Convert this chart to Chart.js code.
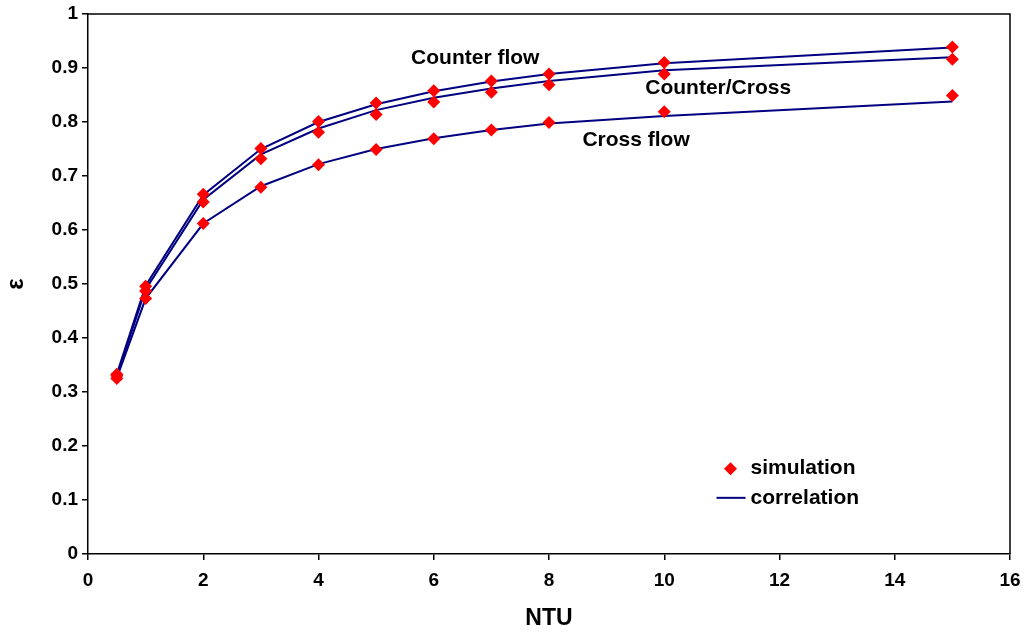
<!DOCTYPE html>
<html>
<head>
<meta charset="utf-8">
<script src="https://cdn.jsdelivr.net/npm/chart.js@4.4.1/dist/chart.umd.min.js"></script>
<style>
  html, body { margin: 0; padding: 0; background: #fff; }
  #wrap { width: 1026px; height: 634px; }
</style>
</head>
<body>
<div id="wrap"><canvas id="c" width="1026" height="634"></canvas></div>
<script>
// NTU values at which the effectiveness was evaluated
const ntu = [0.5, 1, 2, 3, 4, 5, 6, 7, 8, 10, 15];

// Simulated effectiveness
const simCounter      = [0.333, 0.496, 0.666, 0.751, 0.801, 0.835, 0.858, 0.876, 0.889, 0.910, 0.939];
const simCounterCross = [0.330, 0.487, 0.652, 0.732, 0.781, 0.814, 0.837, 0.855, 0.869, 0.889, 0.916];
const simCross        = [0.325, 0.473, 0.612, 0.679, 0.721, 0.749, 0.769, 0.785, 0.799, 0.819, 0.849];

// Correlation curves
const corCounter      = [0.333, 0.497, 0.665, 0.750, 0.800, 0.833, 0.857, 0.875, 0.889, 0.909, 0.938];
const corCounterCross = [0.330, 0.490, 0.656, 0.740, 0.788, 0.822, 0.845, 0.862, 0.876, 0.896, 0.920];
const corCross        = [0.326, 0.473, 0.612, 0.681, 0.722, 0.750, 0.770, 0.785, 0.797, 0.811, 0.838];

// Axis ticks
const xTicks = [0, 2, 4, 6, 8, 10, 12, 14, 16];
const yTicks = [0, 0.1, 0.2, 0.3, 0.4, 0.5, 0.6, 0.7, 0.8, 0.9, 1];

// Curve labels: text, anchor NTU, anchor ε, alignment
const curveLabels = [
  { text: 'Counter flow',  x: 6.72, y: 0.918, align: 'center' },
  { text: 'Counter/Cross', x: 9.67, y: 0.863, align: 'left' },
  { text: 'Cross flow',    x: 8.58, y: 0.767, align: 'left' }
];
const legendLabels = ['simulation', 'correlation'];

const RED = '#ff0000';
const NAVY = '#000080';
const FONT = "'Liberation Sans', Arial, sans-serif";

const pts = (ys) => ntu.map((x, i) => ({ x: x, y: ys[i] }));

function lineSet(ys) {
  return { data: pts(ys), showLine: true, borderColor: NAVY, borderWidth: 2,
           pointRadius: 0, tension: 0, fill: false, order: 2 };
}
function markerSet(ys) {
  return { data: pts(ys), showLine: false, pointStyle: 'rectRot', pointRadius: 6.5,
           backgroundColor: RED, borderColor: RED, borderWidth: 0, order: 1 };
}

// Frame, curve labels and legend
const decorations = {
  id: 'decorations',
  afterDatasetsDraw(chart) {
    const { ctx, chartArea: a, scales } = chart;
    ctx.save();
    // top and right frame edges
    ctx.strokeStyle = '#000';
    ctx.lineWidth = 1.5;
    ctx.beginPath();
    ctx.moveTo(a.left, a.top);
    ctx.lineTo(a.right, a.top);
    ctx.lineTo(a.right, a.bottom);
    ctx.stroke();

    ctx.fillStyle = '#000';
    ctx.font = 'bold 21px ' + FONT;
    ctx.textBaseline = 'middle';
    curveLabels.forEach(l => {
      ctx.textAlign = l.align;
      ctx.fillText(l.text, scales.x.getPixelForValue(l.x), scales.y.getPixelForValue(l.y));
    });

    // legend
    const lx = scales.x.getPixelForValue(11.15);
    const ly1 = scales.y.getPixelForValue(0.158);
    const ly2 = scales.y.getPixelForValue(0.104);
    ctx.fillStyle = RED;
    ctx.beginPath();
    ctx.moveTo(lx, ly1 - 6.5);
    ctx.lineTo(lx + 6.5, ly1);
    ctx.lineTo(lx, ly1 + 6.5);
    ctx.lineTo(lx - 6.5, ly1);
    ctx.closePath();
    ctx.fill();
    ctx.strokeStyle = NAVY;
    ctx.lineWidth = 2;
    ctx.beginPath();
    ctx.moveTo(lx - 14, ly2);
    ctx.lineTo(lx + 15, ly2);
    ctx.stroke();
    ctx.fillStyle = '#000';
    ctx.textAlign = 'left';
    ctx.fillText(legendLabels[0], lx + 20, ly1);
    ctx.fillText(legendLabels[1], lx + 20, ly2);
    ctx.restore();
  }
};

new Chart(document.getElementById('c'), {
  type: 'scatter',
  data: {
    datasets: [
      markerSet(simCounter), markerSet(simCounterCross), markerSet(simCross),
      lineSet(corCounter), lineSet(corCounterCross), lineSet(corCross)
    ]
  },
  options: {
    responsive: false,
    animation: false,
    layout: { padding: { top: 14, right: 16, left: 0, bottom: 0 } },
    plugins: { legend: { display: false }, tooltip: { enabled: false } },
    scales: {
      x: {
        type: 'linear', min: 0, max: 16,
        afterBuildTicks(s) { s.ticks = xTicks.map(v => ({ value: v })); },
        afterFit(s) { s.height = 80; s.paddingLeft = 0; s.paddingRight = 0; },
        ticks: { color: '#000', font: { family: FONT, size: 19, weight: 'bold' }, padding: 9,
                 maxRotation: 0, callback: v => String(v) },
        grid: { drawOnChartArea: false, drawTicks: true, tickLength: 6, color: '#000', lineWidth: 1.5 },
        border: { color: '#000', width: 1.5 },
        title: { display: true, text: 'NTU', color: '#000',
                 font: { family: FONT, size: 23, weight: 'bold' }, padding: { top: 4, bottom: 2 } }
      },
      y: {
        type: 'linear', min: 0, max: 1,
        afterBuildTicks(s) { s.ticks = yTicks.map(v => ({ value: v })); },
        afterFit(s) { s.width = 88; s.paddingTop = 0; s.paddingBottom = 0; },
        ticks: { color: '#000', font: { family: FONT, size: 19, weight: 'bold' }, padding: 4,
                 callback: v => String(Math.round(v * 10) / 10) },
        grid: { drawOnChartArea: false, drawTicks: true, tickLength: 6, color: '#000', lineWidth: 1.5 },
        border: { color: '#000', width: 1.5 },
        title: { display: true, text: 'ε', color: '#000',
                 font: { family: FONT, size: 24, weight: 'bold' }, padding: { top: 2, bottom: 2 } }
      }
    }
  },
  plugins: [decorations]
});
</script>
</body>
</html>
